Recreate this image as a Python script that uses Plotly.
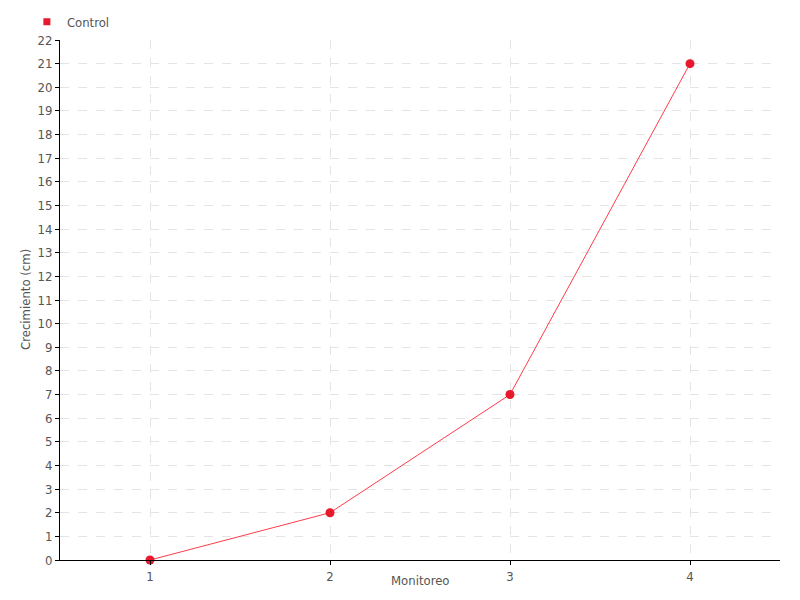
import plotly.graph_objects as go

x_vals = [1, 2, 3, 4]
control = [0, 2, 7, 21]
series_name = "Control"
x_title = "Monitoreo"
y_title = "Crecimiento (cm)"

FONT = "DejaVu Sans Condensed, Liberation Sans Narrow, sans-serif"
TXT = "#555555"

fig = go.Figure()
fig.add_trace(go.Scatter(
    x=x_vals, y=control, mode="lines+markers", name=series_name,
    line=dict(color="#ff3b4a", width=1),
    marker=dict(color="#e8192c", size=9),
    showlegend=False, cliponaxis=False,
))
fig.add_trace(go.Scatter(
    x=[None], y=[None], mode="markers", name=series_name,
    marker=dict(color="#e8192c", size=7, symbol="square"),
    showlegend=True,
))

grid = dict(showgrid=True, gridcolor="#e4e4e4", griddash="dash", gridwidth=1,
            showline=True, linecolor="black", linewidth=1,
            ticks="outside", ticklen=4, tickcolor="black",
            tickfont=dict(family=FONT, size=13, color=TXT),
            zeroline=False, automargin=False)

fig.update_xaxes(range=[0.5, 4.5], tickvals=x_vals, **grid)
fig.update_yaxes(range=[0, 22], dtick=1, **grid)

fig.add_annotation(text=x_title, xref="paper", yref="paper", x=0.5, y=-20 / 520,
                   xanchor="center", yanchor="middle", showarrow=False,
                   font=dict(family=FONT, size=13, color=TXT))
fig.add_annotation(text=y_title, xref="paper", yref="paper", x=-35 / 720, y=0.5,
                   xanchor="center", yanchor="middle", showarrow=False, textangle=-90,
                   font=dict(family=FONT, size=13, color=TXT))

# page body adds an 8px offset, margins compensate
fig.update_layout(
    width=800, height=600,
    margin=dict(l=52, r=28, t=32, b=48, autoexpand=False),
    plot_bgcolor="white", paper_bgcolor="white",
    font=dict(family=FONT, color=TXT),
    legend=dict(x=-0.046, y=1.035, xanchor="left", yanchor="middle", orientation="h",
                font=dict(family=FONT, size=13, color=TXT),
                itemwidth=30, tracegroupgap=0, bgcolor="rgba(0,0,0,0)"),
    showlegend=True,
)

fig.write_html("out.html")
